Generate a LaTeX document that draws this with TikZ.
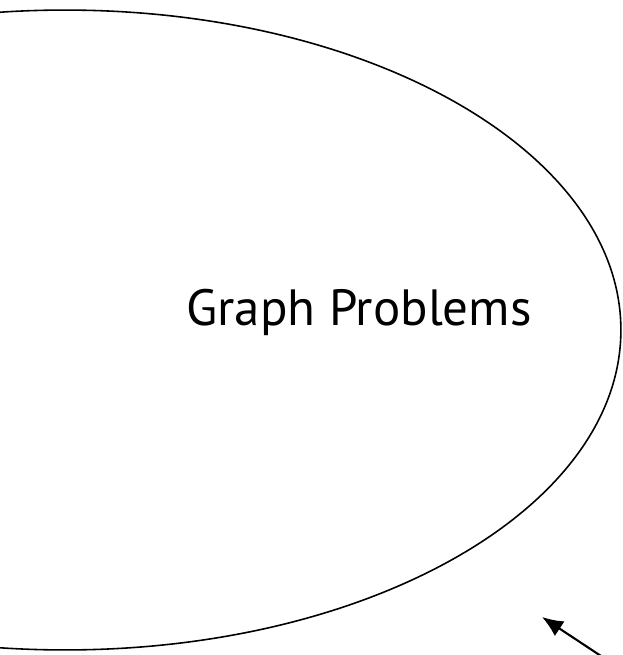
\documentclass[tikz,border=0pt]{standalone}
\usepackage{fontspec}
\setmainfont{PT Sans}
\usetikzlibrary{arrows.meta}

\begin{document}
\begin{tikzpicture}[
    x=0.02cm, y=-0.02cm,
    >={Latex[length=12pt, width=10pt]},
    outline/.style={draw=black, line width=0.9pt},
    ptr/.style={->, line width=1.2pt},
    title/.style={font=\fontsize{29}{34}\selectfont, inner sep=0pt},
]
\useasboundingbox (0,0) rectangle (622,655);
\draw[outline] (65,330) ellipse [x radius=11.12cm, y radius=6.4cm];
\node[title] (lbl) at (359,312) {Graph Problems};

\coordinate (tail) at (601,656);
\coordinate (head) at (542,617);
\draw[ptr] (tail) -- (head);
\end{tikzpicture}
\end{document}
